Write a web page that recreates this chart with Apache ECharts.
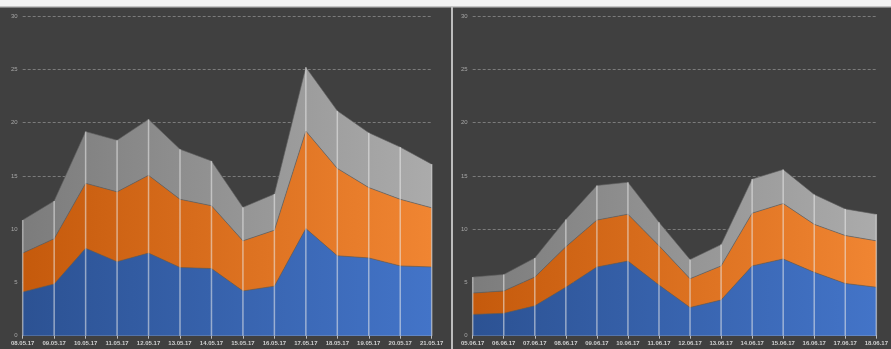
<!DOCTYPE html>
<html>
<head>
<meta charset="utf-8">
<script src="https://cdn.jsdelivr.net/npm/echarts@6/dist/echarts.min.js"></script>
<style>
html,body{margin:0;padding:0;background:#404040;}
#c{width:891px;height:349px;}
</style>
</head>
<body>
<div id="c"></div>
<script>
// ---- data ----
var categoriesMay = ['08.05.17','09.05.17','10.05.17','11.05.17','12.05.17','13.05.17','14.05.17','15.05.17','16.05.17','17.05.17','18.05.17','19.05.17','20.05.17','21.05.17'];
var blueMay   = [4.1, 4.85, 8.2, 6.95, 7.75, 6.4, 6.3, 4.2, 4.65, 10.05, 7.5, 7.3, 6.55, 6.45];
var orangeMay = [3.65, 4.25, 6.1, 6.55, 7.3, 6.4, 5.9, 4.7, 5.25, 9.15, 8.2, 6.6, 6.25, 5.55];
var grayMay   = [3.1, 3.55, 4.85, 4.85, 5.25, 4.7, 4.2, 3.15, 3.4, 6.0, 5.4, 5.15, 4.9, 4.1];

var categoriesJun = ['05.06.17','06.06.17','07.06.17','08.06.17','09.06.17','10.06.17','11.06.17','12.06.17','13.06.17','14.06.17','15.06.17','16.06.17','17.06.17','18.06.17'];
var blueJun   = [2.0, 2.1, 2.8, 4.55, 6.45, 7.0, 4.75, 2.65, 3.35, 6.55, 7.2, 5.95, 4.9, 4.55];
var orangeJun = [2.0, 2.1, 2.7, 3.8, 4.4, 4.4, 3.7, 2.7, 3.2, 4.95, 5.2, 4.5, 4.5, 4.35];
var grayJun   = [1.5, 1.55, 1.8, 2.55, 3.25, 3.0, 2.2, 1.8, 2.0, 3.2, 3.2, 2.8, 2.5, 2.5];

var yTicks = {min: 0, max: 30, interval: 5};

// ---- helpers ----
function grad(c1, c2) {
  return new echarts.graphic.LinearGradient(0, 0, 1, 0, [
    {offset: 0, color: c1}, {offset: 1, color: c2}
  ]);
}
function sums(a, b, c) {
  return a.map(function (v, i) { return +(v + b[i] + c[i]).toFixed(2); });
}
var blueGrad = function () { return grad('#2c5293', '#4374c8'); };
var orangeGrad = function () { return grad('#c55a0c', '#f08532'); };
var grayGrad = function () { return grad('#7c7c7c', '#ababab'); };

function areaSeries(idx, data, color, stack) {
  return {
    type: 'line', xAxisIndex: idx, yAxisIndex: idx, stack: stack,
    data: data, symbol: 'none', smooth: false,
    lineStyle: {width: 0.8, color: 'rgba(95,95,95,0.8)'},
    areaStyle: {color: color, opacity: 1},
    z: 2, silent: true
  };
}
function dropSeries(idx, data) {
  return {
    type: 'bar', xAxisIndex: idx, yAxisIndex: idx, data: data,
    barWidth: 1.5, itemStyle: {color: 'rgba(235,235,235,0.55)'},
    z: 5, silent: true
  };
}
function xAxis(idx, cats) {
  return {
    type: 'category', gridIndex: idx, data: cats, boundaryGap: false,
    axisLine: {show: true, lineStyle: {color: '#bdbdbd', width: 1}},
    axisTick: {show: true, length: 3, alignWithLabel: true, lineStyle: {color: '#bdbdbd'}},
    axisLabel: {color: '#d0d0d0', fontSize: 6, fontWeight: 'bold', fontFamily: 'Liberation Sans', margin: 5, interval: 0},
    splitLine: {show: false}
  };
}
function yAxis(idx) {
  return {
    type: 'value', gridIndex: idx, min: yTicks.min, max: yTicks.max, interval: yTicks.interval,
    axisLine: {show: false}, axisTick: {show: false},
    axisLabel: {color: '#a6a6a6', fontSize: 6, fontFamily: 'Liberation Sans', margin: 5},
    splitLine: {show: true, lineStyle: {color: '#8a8a8a', type: [3, 2], width: 0.8}}
  };
}

var chart = echarts.init(document.getElementById('c'), null, {renderer: 'canvas'});
chart.setOption({
  backgroundColor: '#404040',
  animation: false,
  graphic: [
    {type: 'rect', shape: {x: 0, y: 0, width: 891, height: 6}, style: {fill: '#f2f2f2'}, z: 100},
    {type: 'rect', shape: {x: 0, y: 6, width: 891, height: 1.5}, style: {fill: '#c4c4c4'}, z: 100},
    {type: 'rect', shape: {x: 451, y: 7, width: 2, height: 342}, style: {fill: '#bdbdbd'}, z: 100}
  ],
  grid: [
    {left: 22.7, right: 459.3, top: 16, bottom: 13.3},
    {left: 472.7, right: 8.3, top: 16, bottom: 13.3}
  ],
  xAxis: [xAxis(0, categoriesMay), xAxis(1, categoriesJun)],
  yAxis: [yAxis(0), yAxis(1)],
  series: [
    areaSeries(0, blueMay, blueGrad(), 'may'),
    areaSeries(0, orangeMay, orangeGrad(), 'may'),
    areaSeries(0, grayMay, grayGrad(), 'may'),
    dropSeries(0, sums(blueMay, orangeMay, grayMay)),
    areaSeries(1, blueJun, blueGrad(), 'jun'),
    areaSeries(1, orangeJun, orangeGrad(), 'jun'),
    areaSeries(1, grayJun, grayGrad(), 'jun'),
    dropSeries(1, sums(blueJun, orangeJun, grayJun))
  ]
});
</script>
</body>
</html>
